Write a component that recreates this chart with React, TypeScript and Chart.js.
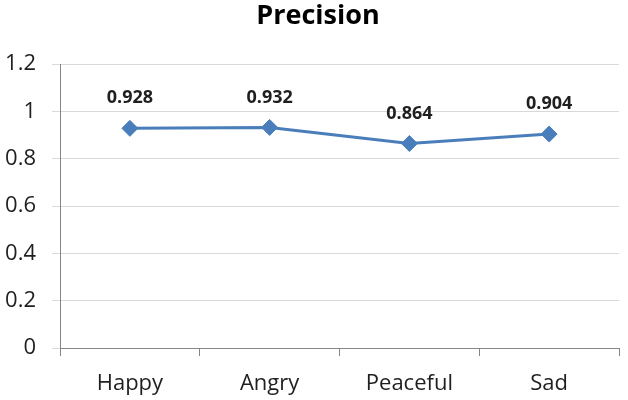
import React, { useEffect, useRef } from "react";
import { Chart, registerables } from "chart.js";

Chart.register(...registerables);

const categories = ["Happy", "Angry", "Peaceful", "Sad"];
const precision = [0.928, 0.932, 0.864, 0.904];
const yTicks = [0, 0.2, 0.4, 0.6, 0.8, 1, 1.2];
const titleText = "Precision";

const FONT = "'Open Sans', 'Noto Sans', sans-serif";

export default function App() {
  const ref = useRef<HTMLCanvasElement>(null);
  useEffect(() => {
    document.body.style.margin = "0";
    const ctx = ref.current!.getContext("2d")!;
    const labelPlugin = {
      id: "valueLabels",
      afterDatasetsDraw(chart: any) {
        const c = chart.ctx;
        const meta = chart.getDatasetMeta(0);
        c.save();
        c.font = `bold 18px ${FONT}`;
        c.fillStyle = "#1f1f1f";
        c.textAlign = "center";
        c.textBaseline = "middle";
        meta.data.forEach((pt: any, i: number) => {
          c.fillText(precision[i].toFixed(3), pt.x, pt.y - 30);
        });
        c.restore();
      },
      afterDraw(chart: any) {
        const c = chart.ctx;
        c.save();
        c.font = `bold 27px ${FONT}`;
        c.fillStyle = "#000";
        c.textAlign = "center";
        c.textBaseline = "middle";
        c.fillText(titleText, 318, 16);
        c.restore();
      },
    };
    const chart = new Chart(ctx, {
      type: "line",
      data: {
        labels: categories,
        datasets: [
          {
            data: precision,
            borderColor: "#4A7EBB",
            backgroundColor: "#4A7EBB",
            borderWidth: 3,
            pointStyle: "rectRot",
            pointRadius: 8,
            pointBorderWidth: 1,
            tension: 0,
          },
        ],
      },
      options: {
        animation: false,
        responsive: false,
        layout: { padding: { top: 64, right: 4, left: 0, bottom: 0 } },
        plugins: { legend: { display: false }, title: { display: false }, tooltip: { enabled: false } },
        scales: {
          x: {
            offset: true,
            grid: { offset: true, drawOnChartArea: false, tickLength: 8, color: "#868686", lineWidth: 1 },
            border: { color: "#868686" },
            ticks: { font: { size: 22, family: FONT }, color: "#1f1f1f", padding: 15 },
            afterFit: (s: any) => { s.height = 52; },
          },
          y: {
            min: 0,
            max: 1.2,
            afterBuildTicks: (s: any) => { s.ticks = yTicks.map((v) => ({ value: v })); },
            grid: { color: "#D9D9D9", tickLength: 8, lineWidth: 1 },
            border: { color: "#868686" },
            ticks: {
              font: { size: 22, family: FONT },
              color: "#1f1f1f",
              padding: 16,
              callback: (v: any) => String(Math.round(Number(v) * 10) / 10),
            },
            afterFit: (s: any) => { s.width = 60; },
          },
        },
      },
      plugins: [labelPlugin],
    });
    return () => chart.destroy();
  }, []);
  return (
    <div style={{ position: "fixed", left: 0, top: 0, width: 628, height: 400, background: "#fff" }}>
      <canvas ref={ref} width={628} height={400} />
    </div>
  );
}
